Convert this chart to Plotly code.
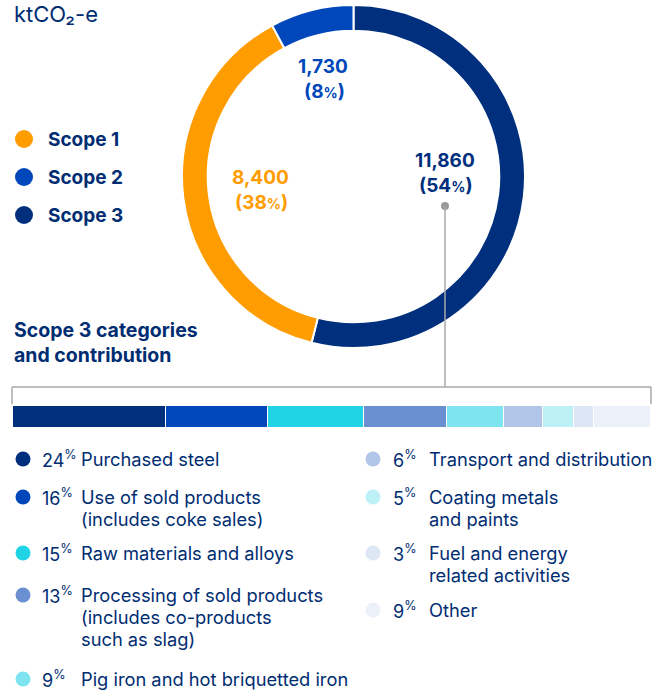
import plotly.graph_objects as go

W, H = 667, 692

# ---------------- data ----------------
scope_labels = ["Scope 3", "Scope 1", "Scope 2"]
scope_values = [11860, 8400, 1730]
scope_pct = [54, 38, 8]
scope_colors = ["#002F7E", "#FF9C00", "#0047BB"]

legend_scopes = ["Scope 1", "Scope 2", "Scope 3"]
legend_scope_colors = ["#FF9C00", "#0047BB", "#002F7E"]

cat_labels = [
    "Purchased steel",
    "Use of sold products<br>(includes coke sales)",
    "Raw materials and alloys",
    "Processing of sold products<br>(includes co-products<br>such as slag)",
    "Pig iron and hot briquetted iron",
    "Transport and distribution",
    "Coating metals<br>and paints",
    "Fuel and energy<br>related activities",
    "Other",
]
cat_pct = [24, 16, 15, 13, 9, 6, 5, 3, 9]
cat_colors = ["#002F7E", "#0047BB", "#20D4E6", "#6A90D2", "#7DE4F0",
              "#B0C5E8", "#BDF0F7", "#DDE6F4", "#EBF0F9"]

NAVY = "#002D72"
FONT = "Inter"

fig = go.Figure()

# ---------------- donut ----------------
cx, cy, R = 353.5, 176.5, 171.5
fig.add_trace(go.Pie(
    labels=scope_labels, values=scope_values, sort=False,
    direction="clockwise", rotation=0, hole=0.85,
    marker=dict(colors=scope_colors, line=dict(color="white", width=2)),
    textinfo="none", hoverinfo="label+value", showlegend=False,
    domain=dict(x=[(cx - R) / W, (cx + R) / W], y=[1 - (cy + R) / H, 1 - (cy - R) / H]),
))

# ---------------- pixel overlay axes ----------------
layout_axes = dict(
    xaxis2=dict(domain=[0, 1], range=[0, W], visible=False, fixedrange=True),
    yaxis2=dict(domain=[0, 1], range=[H, 0], visible=False, fixedrange=True, anchor="x2"),
)

# ---------------- stacked scope-3 bar ----------------
bx0, bx1, by0, by1 = 13, 651, 406, 428
for lab, p, c in zip(cat_labels, cat_pct, cat_colors):
    fig.add_trace(go.Bar(
        x=[p], y=["s3"], orientation="h", xaxis="x3", yaxis="y3",
        marker=dict(color=c, line=dict(color="white", width=1.2)),
        name=lab.replace("<br>", " "), showlegend=False, width=1,
        hoverinfo="name+x",
    ))
layout_axes.update(dict(
    xaxis3=dict(domain=[bx0 / W, bx1 / W], range=[0, sum(cat_pct)], visible=False, fixedrange=True, anchor="y3"),
    yaxis3=dict(domain=[1 - by1 / H, 1 - by0 / H], range=[-0.5, 0.5], visible=False, fixedrange=True, anchor="x3"),
))

annotations = []
shapes = []

# title
annotations.append(dict(x=12, y=14, xref="x2", yref="y2", xanchor="left", yanchor="middle",
                        text="ktCO₂-e", showarrow=False,
                        font=dict(family=FONT, size=22, color=NAVY)))

# top legend
leg_y = [139, 177, 215]
fig.add_trace(go.Scatter(x=[24] * 3, y=leg_y, xaxis="x2", yaxis="y2", mode="markers",
                         marker=dict(size=18, color=legend_scope_colors), hoverinfo="skip",
                         showlegend=False))
for lab, y in zip(legend_scopes, leg_y):
    annotations.append(dict(x=46, y=y, xref="x2", yref="y2", xanchor="left", yanchor="middle",
                            text="<b>%s</b>" % lab, showarrow=False,
                            font=dict(family=FONT, size=19, color=NAVY)))

# donut value labels
val_pos = {"Scope 2": (323, 66), "Scope 1": (260, 177), "Scope 3": (445, 160)}
for lab, v, p, c in zip(scope_labels, scope_values, scope_pct, scope_colors):
    x, y = val_pos[lab]
    annotations.append(dict(x=x, y=y, xref="x2", yref="y2", xanchor="center", yanchor="middle",
                            text="<b>{:,}</b>".format(v), showarrow=False,
                            font=dict(family=FONT, size=19, color=c)))
    annotations.append(dict(x=x + 1, y=y + 25, xref="x2", yref="y2", xanchor="center", yanchor="middle",
                            text="<b>(%d<span style='font-size:14px'>%%</span>)</b>" % p, showarrow=False,
                            font=dict(family=FONT, size=19, color=c)))

# leader + bracket
GR = "#A8A8A8"
shapes.append(dict(type="line", xref="x2", yref="y2", x0=445, x1=445, y0=206, y1=387,
                   line=dict(color=GR, width=1.5)))
shapes.append(dict(type="line", xref="x2", yref="y2", x0=12, x1=651, y0=387, y1=387,
                   line=dict(color=GR, width=1.5)))
shapes.append(dict(type="line", xref="x2", yref="y2", x0=12, x1=12, y0=387, y1=404,
                   line=dict(color=GR, width=1.5)))
shapes.append(dict(type="line", xref="x2", yref="y2", x0=651, x1=651, y0=387, y1=404,
                   line=dict(color=GR, width=1.5)))
fig.add_trace(go.Scatter(x=[445], y=[206], xaxis="x2", yaxis="y2", mode="markers",
                         marker=dict(size=8, color="#999999"), hoverinfo="skip", showlegend=False))

# subtitle
annotations.append(dict(x=12, y=330, xref="x2", yref="y2", xanchor="left", yanchor="middle",
                        text="<b>Scope 3 categories</b>", showarrow=False,
                        font=dict(family=FONT, size=19.5, color=NAVY)))
annotations.append(dict(x=12, y=355, xref="x2", yref="y2", xanchor="left", yanchor="middle",
                        text="<b>and contribution</b>", showarrow=False,
                        font=dict(family=FONT, size=19.5, color=NAVY)))

# bottom legend
row_y = [459, 497, 553, 595, 679, 459, 497, 553, 610]
col = [0, 0, 0, 0, 0, 1, 1, 1, 1]
dot_x = [23, 373]
num_x = [40, 391]
lab_x = [79, 427]
LH = 22
fig.add_trace(go.Scatter(x=[dot_x[c] for c in col], y=row_y, xaxis="x2", yaxis="y2", mode="markers",
                         marker=dict(size=15, color=cat_colors), hoverinfo="skip", showlegend=False))
for lab, p, y, c in zip(cat_labels, cat_pct, row_y, col):
    annotations.append(dict(x=num_x[c], y=y, xref="x2", yref="y2", xanchor="left", yanchor="middle",
                            text="%d<sup>%%</sup>" % p, showarrow=False,
                            font=dict(family=FONT, size=18, color=NAVY)))
    for i, line in enumerate(lab.split("<br>")):
        annotations.append(dict(x=lab_x[c], y=y + i * LH, xref="x2", yref="y2",
                                xanchor="left", yanchor="middle", align="left",
                                text=line, showarrow=False,
                                font=dict(family=FONT, size=18.3, color=NAVY)))

fig.update_layout(
    width=W, height=H, margin=dict(l=0, r=0, t=0, b=0),
    paper_bgcolor="white", plot_bgcolor="rgba(0,0,0,0)",
    barmode="stack", bargap=0,
    xaxis=dict(visible=False), yaxis=dict(visible=False),
    annotations=annotations, shapes=shapes, showlegend=False,
    **layout_axes,
)
fig.write_html("out.html", config={"displayModeBar": False},
               post_script="document.body.style.margin='0px';")
